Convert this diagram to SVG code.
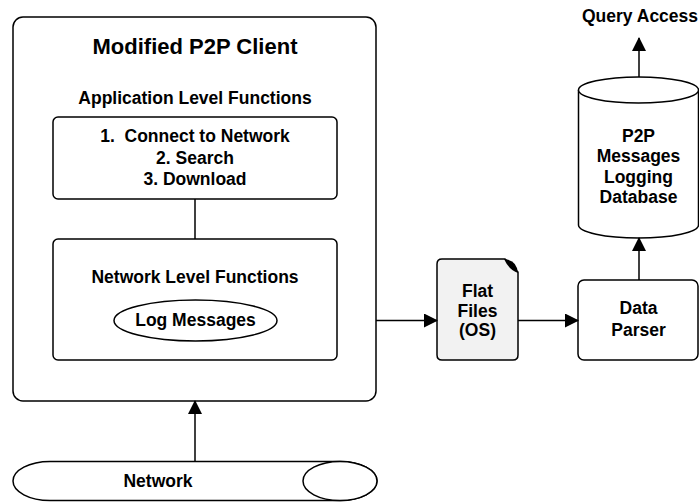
<svg xmlns="http://www.w3.org/2000/svg" width="699" height="502" viewBox="0 0 699 502">
<style>
.s{fill:#fff;stroke:#000;stroke-width:1.5}
.t{font-family:"Liberation Sans",Arial,sans-serif;font-weight:bold;font-size:17.5px;text-anchor:middle;fill:#000}
.c{stroke:#000;stroke-width:1.5;fill:none}
</style>
<defs>
<marker id="ah" viewBox="0 0 14 14" refX="13" refY="7" markerWidth="14" markerHeight="14" markerUnits="userSpaceOnUse" orient="auto">
<path d="M0,0 L14,7 L0,14 Z" fill="#000"/>
</marker>
</defs>
<g id="client">
<rect class="s" x="13" y="17" width="363" height="384" rx="10"/>
<text class="t" x="195" y="54" style="font-size:22px">Modified P2P Client</text>
<text class="t" x="195" y="104">Application Level Functions</text>
</g>
<g id="app">
<rect class="s" x="53" y="117" width="284" height="82" rx="5"/>
<text class="t" x="195" y="142" xml:space="preserve">1.  Connect to Network</text>
<text class="t" x="195" y="164">2. Search</text>
<text class="t" x="195" y="184.5">3. Download</text>
</g>
<g id="netlevel">
<rect class="s" x="53" y="239" width="284" height="121" rx="5"/>
<text class="t" x="195" y="283">Network Level Functions</text>
</g>
<g id="log">
<ellipse class="s" cx="195.5" cy="320.5" rx="81.5" ry="20.5"/>
<text class="t" x="195.5" y="326">Log Messages</text>
</g>
<g id="network">
<path class="s" d="M50,461.5 L340,461.5 A37,19.5 0 0 1 340,500.5 L50,500.5 A37,19.5 0 0 1 50,461.5 Z"/>
<ellipse class="s" cx="340" cy="481" rx="37" ry="19.5"/>
<text class="t" x="158" y="487">Network</text>
</g>
<g id="flatfiles">
<path d="M442,259 L505,259 L518,272 L518,355 Q518,360 513,360 L442,360 Q437,360 437,355 L437,264 Q437,259 442,259 Z" fill="#f2f2f2" stroke="#000" stroke-width="1.5"/>
<path d="M504,259 Q517,260 518,273 Q509,270 504,259 Z" fill="#000"/>
<text class="t" x="477.5" y="297">Flat</text>
<text class="t" x="477.5" y="316.5">Files</text>
<text class="t" x="477.5" y="336">(OS)</text>
</g>
<g id="parser">
<rect class="s" x="578" y="280" width="120" height="80" rx="6"/>
<text class="t" x="638.5" y="314">Data</text>
<text class="t" x="638.5" y="336">Parser</text>
</g>
<g id="database">
<path class="s" d="M578.5,90 L578.5,225 A60,13 0 0 0 698.5,225 L698.5,90"/>
<ellipse class="s" cx="638.5" cy="90" rx="60" ry="13"/>
<text class="t" x="638.5" y="142">P2P</text>
<text class="t" x="638.5" y="162">Messages</text>
<text class="t" x="638.5" y="183">Logging</text>
<text class="t" x="638.5" y="203">Database</text>
</g>
<g id="query">
<text class="t" x="640" y="22">Query Access</text>
</g>
<g id="connectors">
<line class="c" x1="195" y1="199" x2="195" y2="239"/>
<line class="c" x1="195" y1="461.5" x2="195" y2="401" marker-end="url(#ah)"/>
<line class="c" x1="376" y1="320.5" x2="437" y2="320.5" marker-end="url(#ah)"/>
<line class="c" x1="518" y1="320.5" x2="578" y2="320.5" marker-end="url(#ah)"/>
<line class="c" x1="639" y1="280" x2="639" y2="238" marker-end="url(#ah)"/>
<line class="c" x1="639" y1="77" x2="639" y2="38" marker-end="url(#ah)"/>
</g>
</svg>
